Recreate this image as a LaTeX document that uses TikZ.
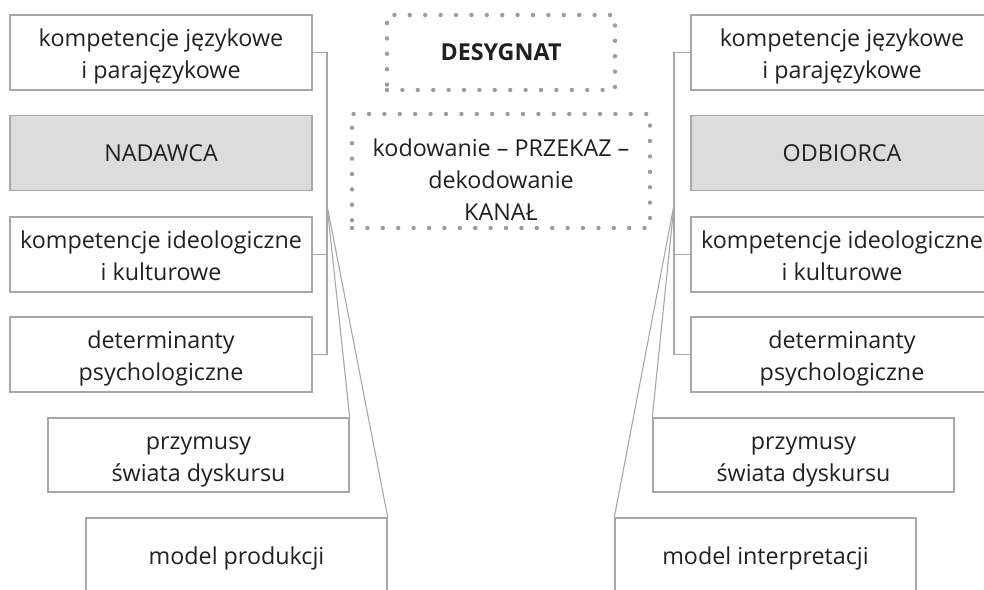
\documentclass[tikz,border=0pt]{standalone}
\usepackage{fontspec}
\setmainfont{Open Sans}
\newcommand{\twol}[1]{\begin{tabular}{@{}c@{}}\rule{0pt}{30.4pt}#1\end{tabular}}
\begin{document}
\begin{tikzpicture}[x=1pt,y=-1pt,
  txt/.style={text=textc,font=\fontsize{23.3}{32}\selectfont,align=center,inner sep=0pt},
  box/.style={txt,draw=boxc,line width=1.4pt,rectangle,minimum width=302pt,minimum height=75pt},
  grey/.style={box,fill=fillc},
  dotbox/.style={txt,rectangle,draw=dotc,line width=4.4pt,line cap=round,dash pattern=on 0pt off 15.4pt},
  conn/.style={draw=boxc,line width=1.1pt}]
\definecolor{textc}{HTML}{231F20}
\definecolor{boxc}{HTML}{A7A7A7}
\definecolor{fillc}{HTML}{DCDCDD}
\definecolor{dotc}{HTML}{9C9C9E}
\useasboundingbox (0,0) rectangle (984,589);
\clip (0,0) rectangle (984,589);
% left column
\node[box] (L1) at (161,52.5) {\twol{kompetencje językowe\\i parajęzykowe}};
\node[grey] (N) at (161,153) {NADAWCA};
\node[box] (L3) at (161,254.5) {\twol{kompetencje ideologiczne\\i kulturowe}};
\node[box] (L4) at (161,354.5) {\twol{determinanty\\psychologiczne}};
\node[box,minimum width=301pt,minimum height=74pt] (L5) at (198.5,455) {\twol{przymusy\\świata dyskursu}};
\node[box,minimum width=301pt,minimum height=74pt] (L6) at (236.5,555) {\rule{0pt}{24pt}model produkcji};
% right column
\node[box] (R1) at (842,52.5) {\twol{kompetencje językowe\\i parajęzykowe}};
\node[grey] (O) at (842,153) {ODBIORCA};
\node[box] (R3) at (842,254.5) {\twol{kompetencje ideologiczne\\i kulturowe}};
\node[box] (R4) at (842,354.5) {\twol{determinanty\\psychologiczne}};
\node[box,minimum width=301pt,minimum height=74pt] (R5) at (803.5,455) {\twol{przymusy\\świata dyskursu}};
\node[box,minimum width=301pt,minimum height=74pt] (R6) at (765.5,555) {\rule{0pt}{24pt}model interpretacji};
% centre
\node[dotbox,minimum width=228pt,minimum height=75pt] (D) at (501,52.5) {\textbf{DESYGNAT}};
\node[dotbox,minimum width=298pt,minimum height=114pt] (K) at (501,171) {};
\node[txt] (Kt) at (501,180) {kodowanie – PRZEKAZ –\\dekodowanie\\KANAŁ};
% connectors left
\coordinate (lv) at (327,0);
\coordinate (lj) at (327,205);
\draw[conn] (L1.east) -- (L1.east -| lv) -- (L4.east -| lv) -- (L4.east);
\draw[conn] (L3.east) -- (L3.east -| lv);
\draw[conn] (lj) -- (L5.north east);
\draw[conn] (lj) -- (L6.north east);
% connectors right
\coordinate (rv) at (674,0);
\coordinate (rj) at (674,205);
\draw[conn] (R1.west) -- (R1.west -| rv) -- (R4.west -| rv) -- (R4.west);
\draw[conn] (R3.west) -- (R3.west -| rv);
\draw[conn] (rj) -- (R5.north west);
\draw[conn] (rj) -- (R6.north west);
\end{tikzpicture}
\end{document}
